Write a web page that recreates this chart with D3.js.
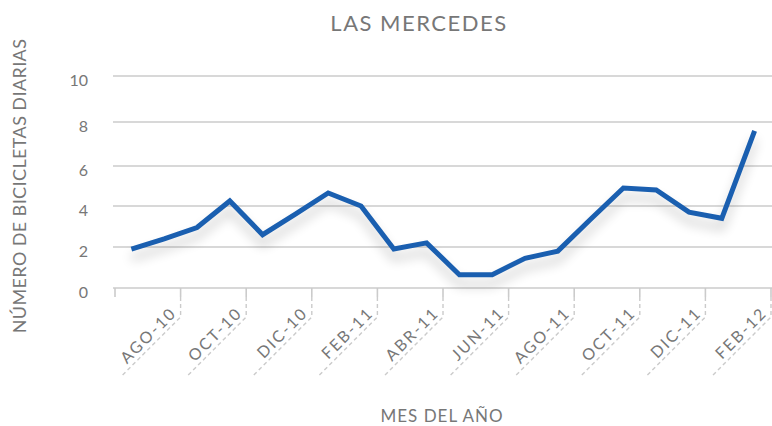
<!DOCTYPE html>
<html>
<head>
<meta charset="utf-8">
<script src="https://cdnjs.cloudflare.com/ajax/libs/d3/7.8.5/d3.min.js"></script>
<style>
  body { margin: 0; background: #fff; }
  text { font-family: Lato, "Open Sans", sans-serif; fill: #777; }
</style>
</head>
<body>
<div id="chart"></div>
<script>

var months = ['JUL-10', 'AGO-10', 'SEP-10', 'OCT-10', 'NOV-10', 'DIC-10',
	'ENE-11', 'FEB-11', 'MAR-11', 'ABR-11', 'MAY-11', 'JUN-11',
	'JUL-11', 'AGO-11', 'SEP-11', 'OCT-11', 'NOV-11', 'DIC-11',
	'ENE-12', 'FEB-12'];
var bikes = [1.9, 2.4, 2.95, 4.25, 2.6, 3.6, 4.65, 4.0, 1.9, 2.2,
	0.65, 0.65, 1.45, 1.8, 3.35, 4.9, 4.8, 3.7, 3.4, 7.6];
var yTicks = [0, 2, 4, 6, 8, 10];

var width = 772, height = 426;

var svg = d3.select('#chart')
	.append('svg')
	.attr('width', width)
	.attr('height', height);

// the picture's gridlines are not evenly spaced, so the scale follows them
var y = d3.scaleLinear()
	.domain(yTicks)
	.range([288, 247, 206, 166, 122, 76]);

var x = d3.scaleBand()
	.domain(months)
	.range([115, 771]);

var defs = svg.append('defs');
var shadow = defs.append('filter')
	.attr('id', 'shadow')
	.attr('x', '-10%').attr('y', '-20%')
	.attr('width', '120%').attr('height', '150%');
shadow.append('feGaussianBlur')
	.attr('in', 'SourceAlpha')
	.attr('stdDeviation', 6);
shadow.append('feOffset')
	.attr('dy', 9)
	.attr('result', 'off');
shadow.append('feComponentTransfer')
	.append('feFuncA')
	.attr('type', 'linear')
	.attr('slope', 0.22);

// gridlines
svg.selectAll('.grid')
	.data(yTicks)
	.enter()
	.append('line')
	.attr('class', 'grid')
	.attr('x1', 113)
	.attr('x2', width)
	.attr('y1', d => y(d))
	.attr('y2', d => y(d))
	.attr('stroke', '#cbcbcb')
	.attr('stroke-width', 1.6);

svg.selectAll('.ylab')
	.data(yTicks)
	.enter()
	.append('text')
	.attr('class', 'ylab')
	.attr('x', 88)
	.attr('y', d => y(d) + 4)
	.attr('dy', '0.35em')
	.attr('text-anchor', 'end')
	.style('font-size', '16px')
	.text(d => d);

// tick marks every two months, on the band edges
var edges = d3.range(0, months.length + 1, 2);
svg.selectAll('.tick')
	.data(edges)
	.enter()
	.append('line')
	.attr('class', 'tick')
	.attr('x1', i => x.range()[0] + i * x.step())
	.attr('x2', i => x.range()[0] + i * x.step())
	.attr('y1', 288)
	.attr('y2', 297)
	.attr('stroke', '#cbcbcb')
	.attr('stroke-width', 1.6);

var labelled = edges.slice(1);
svg.selectAll('.bracket')
	.data(labelled)
	.enter()
	.append('path')
	.attr('class', 'bracket')
	.attr('d', function(i) {
		var px = x.range()[0] + i * x.step();
		return 'M' + px + ',297V317L' + (px - 59) + ',376';
	})
	.attr('fill', 'none')
	.attr('stroke', '#cbcbcb')
	.attr('stroke-width', 1.4)
	.attr('stroke-dasharray', '4,3');

svg.selectAll('.xlab')
	.data(labelled)
	.enter()
	.append('text')
	.attr('class', 'xlab')
	.attr('text-anchor', 'end')
	.attr('transform', function(i) {
		var px = x.range()[0] + i * x.step();
		return 'translate(' + (px - 3) + ',314) rotate(-45)';
	})
	.style('font-size', '16px')
	.style('letter-spacing', '2px')
	.text(i => months[i - 1]);

// series
var line = d3.line()
	.x((d, i) => x(months[i]) + x.bandwidth() / 2)
	.y(d => y(d));

svg.append('path')
	.datum(bikes)
	.attr('d', line)
	.attr('fill', 'none')
	.attr('stroke', '#000')
	.attr('stroke-width', 5)
	.attr('filter', 'url(#shadow)');

svg.append('path')
	.datum(bikes)
	.attr('d', line)
	.attr('fill', 'none')
	.attr('stroke', '#1a5fb0')
	.attr('stroke-width', 5)
	.attr('stroke-linejoin', 'miter');

// titles
svg.append('text')
	.attr('x', 419)
	.attr('y', 31)
	.attr('text-anchor', 'middle')
	.style('font-size', '22px')
	.style('letter-spacing', '1.5px')
	.text('LAS MERCEDES');

svg.append('text')
	.attr('x', 442)
	.attr('y', 422)
	.attr('text-anchor', 'middle')
	.style('font-size', '17px')
	.style('letter-spacing', '1px')
	.text('MES DEL AÑO');

svg.append('text')
	.attr('transform', 'translate(26,186) rotate(-90)')
	.attr('text-anchor', 'middle')
	.style('font-size', '18px')
	.style('letter-spacing', '0.4px')
	.text('NÚMERO DE BICICLETAS DIARIAS');

</script>
</body>
</html>
